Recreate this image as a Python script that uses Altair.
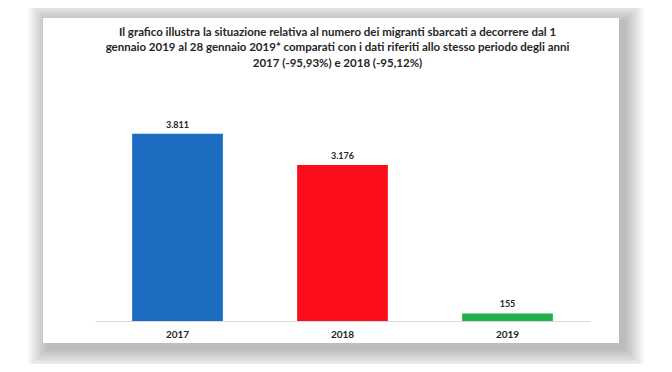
import altair as alt
import pandas as pd

years = ["2017", "2018", "2019"]
values = [3811, 3176, 155]
colors = ["#1c6dc1", "#fc0d1b", "#22b04e"]
title_lines = [
    "Il grafico illustra la situazione relativa al numero dei migranti sbarcati a decorrere dal 1",
    "gennaio 2019 al 28 gennaio 2019* comparati con i dati riferiti allo stesso periodo degli anni",
    "2017 (-95,93%) e 2018 (-95,12%)",
]

df = pd.DataFrame({
    "year": years,
    "value": values,
    "color": colors,
    "label": [f"{v:,}".replace(",", ".") for v in values],
})

FONT = "Lato"
W, H = 495, 221

x = alt.X("year:N", sort=years, title=None,
          scale=alt.Scale(paddingInner=0.45, paddingOuter=0.225),
          axis=alt.Axis(labelAngle=0, ticks=False, domainColor="#d9d9d9",
                        domainWidth=1, labelFont=FONT, labelFontSize=10,
                        labelFontWeight="bold", labelColor="#262626",
                        labelPadding=8, zindex=1))
y = alt.Y("value:Q", scale=alt.Scale(domain=[0, 4500]), axis=None)

one = pd.DataFrame({"k": [0]})
layers = []
# card shadow (decorative)
cx1, cy1, cx2, cy2 = -52, -82, 524, 243
for i in range(10):
    s = 1 + i * 2
    layers.append(
        alt.Chart(one).mark_rect(color="#000000", opacity=0.028).encode(
            x=alt.value(cx1 - s + 4), x2=alt.value(cx2 + s + 6),
            y=alt.value(cy1 - s + 3), y2=alt.value(cy2 + s + 6))
    )
layers.append(
    alt.Chart(one).mark_rect(color="#ffffff").encode(
        x=alt.value(cx1), x2=alt.value(cx2),
        y=alt.value(cy1), y2=alt.value(cy2))
)

base = alt.Chart(df)
bars = base.mark_bar().encode(
    x=x, y=y,
    color=alt.Color("color:N", scale=None),
)
labels = base.mark_text(dy=-9, font=FONT, fontSize=9, fontWeight="bold",
                        color="#262626").encode(
    x=alt.X("year:N", sort=years), y=y, text="label:N")

chart = alt.layer(*layers, bars, labels).properties(
    width=W, height=H,
    title=alt.TitleParams(title_lines, font=FONT, fontSize=11.5,
                          fontWeight="bold", color="#262626",
                          anchor="middle", frame="group", offset=-67,
                          lineHeight=15.5, dx=-5),
    autosize=alt.AutoSizeParams(type="none"),
    padding={"left": 87, "top": 92, "right": 74, "bottom": 43},
    background="#ffffff",
).configure_view(stroke=None)

chart.save("out.html", embed_options={"renderer": "svg", "actions": False})
